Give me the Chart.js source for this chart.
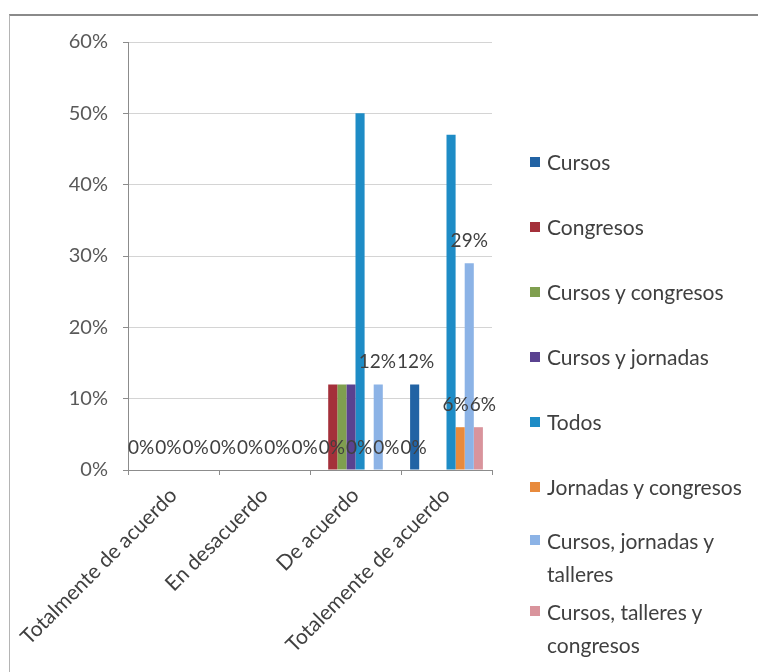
<!DOCTYPE html>
<html lang="es">
<head>
<meta charset="utf-8">
<title>Participación en actividades de formación</title>
<script src="https://cdn.jsdelivr.net/npm/chart.js@4/dist/chart.umd.min.js"></script>
<style>
  html, body { margin: 0; padding: 0; background: #fff; }
  #wrap { position: relative; width: 758px; height: 672px; overflow: hidden; }
  #frame {
    position: absolute; left: 9px; top: 14px; width: 800px; height: 700px;
    border-top: 2px solid #8a8a8a; border-left: 1px solid #b4b4b4;
  }
  #legend {
    position: absolute; left: 530px; top: 145px; width: 225px;
    font-family: Lato, "Open Sans", sans-serif; font-size: 21px; color: #404040;
  }
  #legend .item { position: relative; padding-left: 17px; line-height: 34px; margin-top: 31px; }
  #legend .item:first-child { margin-top: 0; }
  #legend .item.wrap { line-height: 33px; margin-top: 20px; }
  #legend .item.wrap + .item.wrap { margin-top: 5px; }
  #legend .box { position: absolute; left: 0; top: 12px; width: 10px; height: 10px; }
  #legend .item.wrap .box { top: 11px; }
</style>
</head>
<body>
<div id="wrap">
  <div id="frame"></div>
  <canvas id="trainingChart" width="758" height="672"></canvas>
  <div id="legend"></div>
</div>
<script>
// Respuestas (categorías del eje X)
const categories = ['Totalmente de acuerdo', 'En desacuerdo', 'De acuerdo', 'Totalemente de acuerdo'];

// Porcentajes por tipo de actividad
const cursos = [0, 0, 0, 12];
const congresos = [0, 0, 12, 0];
const cursosYCongresos = [0, 0, 12, 0];
const cursosYJornadas = [0, 0, 12, 0];
const todos = [0, 0, 50, 47];
const jornadasYCongresos = [0, 0, 0, 6];
const cursosJornadasTalleres = [0, 0, 12, 29];
const cursosTalleresCongresos = [0, 0, 0, 6];

const seriesNames = ['Cursos', 'Congresos', 'Cursos y congresos', 'Cursos y jornadas', 'Todos',
  'Jornadas y congresos', 'Cursos, jornadas y talleres', 'Cursos, talleres y congresos'];
const seriesValues = [cursos, congresos, cursosYCongresos, cursosYJornadas, todos,
  jornadasYCongresos, cursosJornadasTalleres, cursosTalleresCongresos];
const seriesColors = ['#2263a4', '#a4303a', '#7f9f4f', '#5a4290', '#1e8cc6', '#e88a3c', '#8cb3e6', '#d9949c'];

// Eje Y
const yTicks = [0, 10, 20, 30, 40, 50, 60];

// Series que muestran etiqueta de valor
const labeledSeries = ['Cursos', 'Jornadas y congresos', 'Cursos, jornadas y talleres', 'Cursos, talleres y congresos'];

const FONT = 'Lato, "Open Sans", sans-serif';

// Etiquetas de valor encima de las barras; las que se pisan se reparten alrededor de su centro
const valueLabels = {
  id: 'valueLabels',
  afterDatasetsDraw(chart) {
    const ctx = chart.ctx;
    const area = chart.chartArea;
    const gap = 1;
    ctx.save();
    ctx.font = '19px ' + FONT;
    ctx.fillStyle = '#404040';
    ctx.textBaseline = 'middle';
    ctx.textAlign = 'left';

    const rows = {};
    chart.data.datasets.forEach((ds, i) => {
      if (!labeledSeries.includes(ds.label)) return;
      chart.getDatasetMeta(i).data.forEach((bar, j) => {
        const text = ds.data[j] + '%';
        const key = Math.round(bar.y);
        (rows[key] = rows[key] || []).push({ x: bar.x, text, w: ctx.measureText(text).width });
      });
    });

    const span = c => c.items.reduce((s, it) => s + it.w, 0) + gap * (c.items.length - 1);
    Object.keys(rows).forEach(key => {
      const items = rows[key].sort((a, b) => a.x - b.x);
      let clusters = items.map(it => ({ items: [it], center: it.x }));
      let merged = true;
      while (merged) {
        merged = false;
        for (let k = 0; k < clusters.length - 1; k++) {
          const a = clusters[k], b = clusters[k + 1];
          if (a.center + span(a) / 2 > b.center - span(b) / 2) {
            const all = a.items.concat(b.items);
            clusters.splice(k, 2, { items: all, center: all.reduce((s, it) => s + it.x, 0) / all.length });
            merged = true;
            break;
          }
        }
      }
      clusters.forEach(c => {
        // no salir por la izquierda del área de trazado
        let x = Math.max(area.left, c.center - span(c) / 2);
        c.items.forEach(it => {
          ctx.fillText(it.text, x, Number(key) - 22);
          x += it.w + gap;
        });
      });
    });
    ctx.restore();
  }
};

const chart = new Chart(document.getElementById('trainingChart'), {
  type: 'bar',
  data: {
    labels: categories,
    datasets: seriesNames.map((name, i) => ({
      label: name,
      data: seriesValues[i],
      backgroundColor: seriesColors[i],
      borderWidth: 0,
      categoryPercentage: 0.8,
      barPercentage: 1.0
    }))
  },
  options: {
    responsive: false,
    animation: false,
    layout: { padding: { top: 42, right: 266, bottom: 0, left: 0 } },
    plugins: {
      legend: { display: false },
      tooltip: { enabled: false }
    },
    scales: {
      y: {
        min: 0,
        max: 60,
        afterBuildTicks: axis => { axis.ticks = yTicks.map(v => ({ value: v })); },
        afterFit: axis => { axis.width = 128; },
        ticks: {
          padding: 15,
          color: '#595959',
          font: { family: FONT, size: 20 },
          callback: v => v + '%'
        },
        grid: { color: '#d4d4d4', tickLength: 5, tickColor: '#8c8c8c' },
        border: { color: '#8c8c8c' }
      },
      x: {
        afterFit: axis => { axis.height = 202; },
        ticks: {
          minRotation: 45,
          maxRotation: 45,
          padding: 8,
          color: '#404040',
          font: { family: FONT, size: 21 }
        },
        grid: { drawOnChartArea: false, tickLength: 5, color: '#8c8c8c' },
        border: { color: '#8c8c8c' }
      }
    }
  },
  plugins: [valueLabels]
});

// Leyenda a la derecha, con los nombres largos en dos líneas
const legend = document.getElementById('legend');
seriesNames.forEach((name, i) => {
  const item = document.createElement('div');
  item.className = 'item';
  const box = document.createElement('span');
  box.className = 'box';
  box.style.background = seriesColors[i];
  item.appendChild(box);
  item.appendChild(document.createTextNode(name));
  legend.appendChild(item);
  if (item.offsetHeight > 40) item.classList.add('wrap');
});
</script>
</body>
</html>
